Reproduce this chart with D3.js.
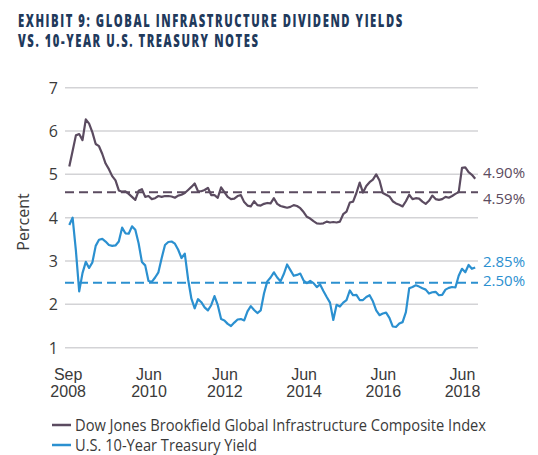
<!DOCTYPE html>
<html><head><meta charset="utf-8">
<script src="https://cdn.jsdelivr.net/npm/d3@7"></script>
<style>
html,body{margin:0;padding:0;background:#fff;}
svg{display:block;font-family:"Open Sans",sans-serif;}
</style></head>
<body><div id="chart"></div>
<script>
// Monthly observations (index 0 = Sep 2008)
const infraYield = [5.18,5.54,5.90,5.93,5.79,6.27,6.17,5.97,5.70,5.65,5.47,5.25,5.12,4.96,4.86,4.63,4.60,4.61,4.55,4.48,
4.41,4.62,4.66,4.48,4.50,4.43,4.45,4.50,4.48,4.50,4.50,4.49,4.46,4.51,4.53,4.57,4.64,4.71,4.79,4.61,
4.61,4.64,4.69,4.52,4.52,4.46,4.70,4.59,4.48,4.43,4.44,4.50,4.52,4.36,4.28,4.26,4.38,4.29,4.28,4.32,
4.34,4.33,4.45,4.32,4.27,4.25,4.23,4.25,4.29,4.27,4.22,4.13,4.02,3.98,3.92,3.87,3.86,3.87,3.91,3.89,
3.90,3.89,3.91,4.08,4.14,4.35,4.37,4.57,4.81,4.58,4.73,4.82,4.88,5.00,4.86,4.57,4.53,4.49,4.38,4.33,
4.30,4.26,4.38,4.53,4.43,4.45,4.44,4.37,4.32,4.39,4.51,4.43,4.41,4.43,4.48,4.46,4.50,4.55,4.59,5.15,
5.16,5.05,4.99,4.90];
const treasuryYield = [3.83,4.00,3.24,2.30,2.72,2.98,2.84,2.97,3.35,3.49,3.51,3.45,3.37,3.35,3.36,3.45,3.77,3.64,3.63,3.80,
3.72,3.41,2.98,2.90,2.54,2.52,2.62,2.74,3.07,3.37,3.44,3.45,3.40,3.26,3.07,3.17,2.58,2.13,1.91,2.12,
2.05,1.93,1.86,1.98,2.19,1.98,1.66,1.63,1.55,1.50,1.58,1.65,1.66,1.63,1.84,1.96,1.87,1.80,1.86,2.25,
2.53,2.62,2.74,2.62,2.53,2.70,2.92,2.79,2.66,2.68,2.71,2.55,2.49,2.54,2.49,2.40,2.46,2.31,2.17,2.04,
1.64,1.99,1.95,2.04,2.10,2.32,2.21,2.22,2.10,2.10,2.17,2.21,2.07,1.86,1.75,1.79,1.81,1.69,1.49,1.48,
1.56,1.59,1.82,2.37,2.40,2.44,2.41,2.37,2.34,2.25,2.28,2.29,2.21,2.22,2.34,2.38,2.40,2.39,2.66,2.82,
2.74,2.91,2.82,2.85];
const infraAvg = 4.59;
const treasuryAvg = 2.50;
const xTickIndex = [-0.5, 24, 47, 71, 95, 119];
const xTickLabels = [["Sep","2008"],["Jun","2010"],["Jun","2012"],["Jun","2014"],["Jun","2016"],["Jun","2018"]];
const yTicks = [1,2,3,4,5,6,7];
const seriesNames = ["Dow Jones Brookfield Global Infrastructure Composite Index","U.S. 10-Year Treasury Yield"];
const titleLines = ["EXHIBIT 9: GLOBAL INFRASTRUCTURE DIVIDEND YIELDS","VS. 10-YEAR U.S. TREASURY NOTES"];

const W = 538, H = 455;
const purple = "#5b4b60", blue = "#2b90d0", txt = "#3a3a3a", navy = "#1f3a5c";
const svg = d3.select("#chart").append("svg").attr("width", W).attr("height", H);

// Title (condensed horizontally via scale to fit the reference width)
const titleG = svg.append("g");
const titleTexts = titleG.selectAll("text.title").data(titleLines).enter().append("text")
  .attr("class","title")
  .attr("x", 0).attr("y", (d,i) => 26.8 + i*20)
  .attr("fill", navy).attr("font-weight", 800).attr("font-size", 18)
  .style("letter-spacing","2.5px")
  .text(d => d);
const natW = titleTexts.nodes()[0].getComputedTextLength();
titleG.attr("transform", `translate(18,0) scale(${386 / natW},1)`);

const x = d3.scaleLinear().domain([0, infraYield.length - 1]).range([69.3, 475.2]);
const y = d3.scaleLinear().domain([1, 7]).range([347.7, 87.7]);
const gridX0 = 65, gridX1 = 478;

// Gridlines
svg.append("g").selectAll("line").data(yTicks).enter().append("line")
  .attr("x1", gridX0).attr("x2", gridX1)
  .attr("y1", d => y(d)).attr("y2", d => y(d))
  .attr("stroke", "#d3d3d6").attr("stroke-width", 1.5);

// Y axis labels
const yAxis = d3.axisLeft(y).tickValues(yTicks).tickSize(0).tickPadding(0).tickFormat(d3.format("d"));
const gy = svg.append("g").attr("transform", "translate(58,0)").call(yAxis);
gy.select(".domain").remove();
gy.selectAll("text").attr("font-size", 16).attr("fill", txt).attr("font-family", "Open Sans").attr("dy", "0.35em");

svg.append("text").attr("transform", "translate(29,222) rotate(-90)")
  .attr("text-anchor","middle").attr("font-size",16).attr("fill",txt).text("Percent");

// X axis labels
const xAxis = d3.axisBottom(x).tickValues(xTickIndex).tickSize(0).tickFormat(() => "");
const gx = svg.append("g").attr("transform", "translate(0,348)").call(xAxis);
gx.select(".domain").remove();
gx.selectAll(".tick").each(function(d, i) {
  const t = d3.select(this).append("text").attr("text-anchor","middle").attr("fill",txt).attr("font-size",16);
  t.append("tspan").attr("x",0).attr("y",32).text(xTickLabels[i][0]);
  t.append("tspan").attr("x",0).attr("y",49).text(xTickLabels[i][1]);
});

// Average dashed lines
[[infraAvg, purple],[treasuryAvg, blue]].forEach(([v,c]) => {
  svg.append("line").attr("x1", gridX0).attr("x2", gridX1)
    .attr("y1", y(v)).attr("y2", y(v))
    .attr("stroke", c).attr("stroke-width", 2).attr("stroke-dasharray", "9,5");
});

// Series lines
const line = d3.line().x((d,i) => x(i)).y(d => y(d));
svg.append("path").datum(treasuryYield).attr("d", line).attr("fill","none")
  .attr("stroke", blue).attr("stroke-width", 2.2).attr("stroke-linejoin","round");
svg.append("path").datum(infraYield).attr("d", line).attr("fill","none")
  .attr("stroke", purple).attr("stroke-width", 2.2).attr("stroke-linejoin","round");

// End labels
const endLabels = [
  {v: infraYield[infraYield.length-1], c: purple, dy: -5.5},
  {v: infraAvg, c: purple, dy: 6.5},
  {v: treasuryYield[treasuryYield.length-1], c: blue, dy: -5.5},
  {v: treasuryAvg, c: blue, dy: -1.5}
];
svg.selectAll("text.endlab").data(endLabels).enter().append("text")
  .attr("class","endlab").attr("x", 483).attr("y", d => y(d.v) + d.dy)
  .attr("dy","0.35em").attr("font-size",15).attr("fill", d => d.c)
  .text(d => d3.format(".2f")(d.v) + "%");

// Legend
const lg = svg.append("g");
const legendLen = [411, 182];
[purple, blue].forEach((c,i) => {
  const yy = 425 + i*20;
  lg.append("line").attr("x1",52).attr("x2",71).attr("y1",yy).attr("y2",yy).attr("stroke",c).attr("stroke-width",2.5);
  lg.append("text").attr("x",75).attr("y",yy).attr("dy","0.35em").attr("font-size",16).attr("fill",txt)
    .attr("textLength", legendLen[i]).attr("lengthAdjust","spacingAndGlyphs").text(seriesNames[i]);
});
</script>
</body></html>
